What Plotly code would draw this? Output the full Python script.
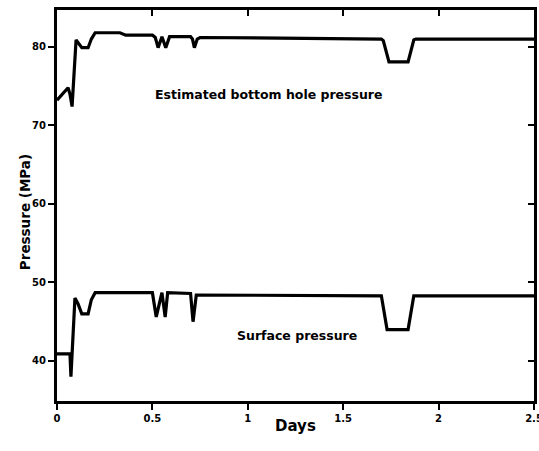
import plotly.graph_objects as go

# Estimated bottom hole pressure (MPa) vs days
bhp_days = [0.0, 0.03, 0.058, 0.068, 0.079, 0.10, 0.115, 0.13, 0.163, 0.18, 0.20, 0.33, 0.36, 0.50,
            0.515, 0.53, 0.55, 0.57, 0.59, 0.70, 0.71, 0.72, 0.735, 0.75, 1.70, 1.71, 1.74, 1.84, 1.87, 1.88, 2.5]
bhp_vals = [73.2, 74.0, 74.8, 74.0, 72.4, 80.9, 80.4, 79.9, 79.9, 81.0, 81.8, 81.8, 81.5, 81.5,
            81.2, 79.9, 81.3, 79.9, 81.3, 81.3, 81.0, 79.9, 81.0, 81.2, 81.0, 80.8, 78.1, 78.1, 80.9, 81.0, 81.0]

# Surface pressure (MPa) vs days
sp_days = [0.0, 0.068, 0.073, 0.094, 0.11, 0.13, 0.163, 0.18, 0.20, 0.50, 0.52, 0.55, 0.567, 0.58,
           0.70, 0.713, 0.73, 0.75, 1.70, 1.73, 1.84, 1.87, 2.5]
sp_vals = [40.9, 40.9, 38.0, 48.0, 47.3, 46.0, 46.0, 47.8, 48.7, 48.7, 45.6, 48.7, 45.6, 48.7,
           48.6, 45.0, 48.4, 48.4, 48.3, 44.0, 44.0, 48.3, 48.3]

x_ticks = [0, 0.5, 1, 1.5, 2, 2.5]
x_tick_labels = ["0", "0.5", "1", "1.5", "2", "2.5"]
y_ticks = [40, 50, 60, 70, 80]
y_tick_labels = ["40", "50", "60", "70", "80"]

FONT = "DejaVu Sans"
line = dict(color="black", width=3.2)

fig = go.Figure()
fig.add_trace(go.Scatter(x=bhp_days, y=bhp_vals, mode="lines", line=line, showlegend=False))
fig.add_trace(go.Scatter(x=sp_days, y=sp_vals, mode="lines", line=line, showlegend=False))
# invisible trace to activate mirror tick axes
fig.add_trace(go.Scatter(x=[0], y=[40], xaxis="x2", yaxis="y2", mode="markers",
                         marker=dict(opacity=0), showlegend=False, hoverinfo="skip"))

xr = [0, 2.5]
yr = [34.9, 84.7]
tickfont = dict(family=FONT, size=10, color="black", weight="bold")

fig.update_layout(
    width=539, height=451,
    margin=dict(l=57, r=5, t=10, b=50),
    paper_bgcolor="white", plot_bgcolor="white",
    font=dict(family=FONT, color="black"),
    xaxis=dict(range=xr, tickvals=x_ticks, ticktext=x_tick_labels, showgrid=False, zeroline=False,
               showline=True, linecolor="black", linewidth=3, mirror=True, automargin=False,
               ticklabeloverflow="allow",
               ticks="outside", ticklen=6, tickwidth=2, tickcolor="black", tickfont=tickfont),
    yaxis=dict(range=yr, tickvals=y_ticks, ticktext=y_tick_labels, showgrid=False, zeroline=False,
               showline=True, linecolor="black", linewidth=3, mirror=True, automargin=False,
               ticks="outside", ticklen=6, tickwidth=2, tickcolor="black", tickfont=tickfont),
    xaxis2=dict(range=xr, overlaying="x", side="top", tickvals=x_ticks, showticklabels=False,
                ticks="inside", ticklen=6, tickwidth=2, tickcolor="black", showgrid=False,
                zeroline=False, showline=False, anchor="y2", automargin=False),
    yaxis2=dict(range=yr, overlaying="y", side="right", tickvals=y_ticks, showticklabels=False,
                ticks="inside", ticklen=6, tickwidth=2, tickcolor="black", showgrid=False,
                zeroline=False, showline=False, anchor="x2", automargin=False),
    annotations=[
        dict(x=1.111, y=73.9, xref="x", yref="y", text="<b>Estimated bottom hole pressure</b>",
             showarrow=False, font=dict(family=FONT, size=12.5, color="black")),
        dict(x=1.258, y=43.3, xref="x", yref="y", text="<b>Surface pressure</b>",
             showarrow=False, font=dict(family=FONT, size=12.5, color="black")),
        dict(x=-0.088, y=0.483, xref="paper", yref="paper", text="<b>Pressure (MPa)</b>",
             textangle=-90, showarrow=False, font=dict(family=FONT, size=13.5, color="black")),
        dict(x=0.501, y=-0.092, xref="paper", yref="paper", text="<b>Days</b>",
             showarrow=False, font=dict(family=FONT, size=15, color="black")),
    ],
)

fig.write_html("out.html", config={"displayModeBar": False},
               post_script="document.body.style.margin='0';")
